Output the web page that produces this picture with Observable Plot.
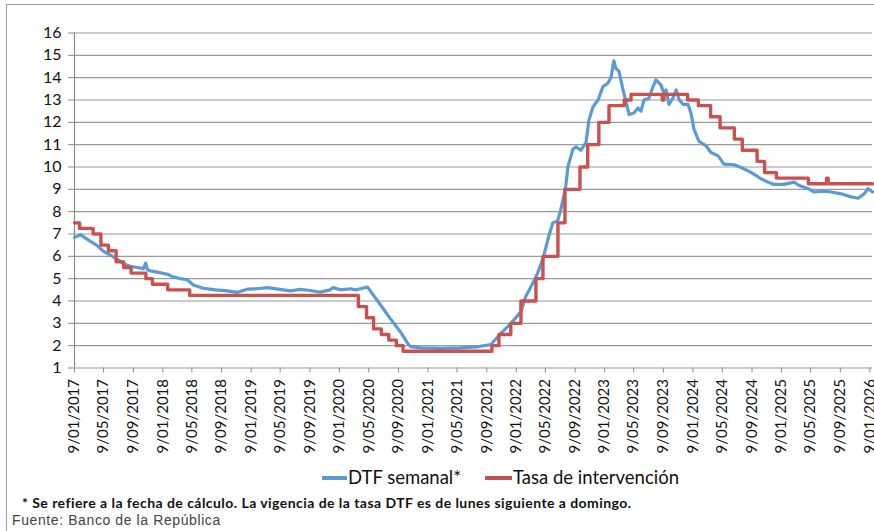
<!DOCTYPE html>
<html>
<head>
<meta charset="utf-8">
<script src="https://cdn.jsdelivr.net/npm/d3@7"></script>
<script src="https://cdn.jsdelivr.net/npm/@observablehq/plot@0.6"></script>
<style>
  html, body { margin: 0; padding: 0; background: #fff; }
  body { width: 874px; height: 531px; overflow: hidden; position: relative; font-family: Lato, "Open Sans", sans-serif; color: #111; }
  #frame { position: absolute; left: 6px; top: 4px; width: 920px; height: 560px; border: 1.5px solid #9d9d9d; box-sizing: border-box; }
  #chart { position: absolute; left: 0; top: 0; }
  .sw { position: absolute; height: 4px; top: 476px; }
  .lg { position: absolute; top: 466px; font-size: 18.5px; line-height: 22px; white-space: nowrap; }
  #note { position: absolute; left: 22px; top: 494px; font-size: 14px; letter-spacing: 0.45px; font-weight: 700; white-space: nowrap; line-height: 18px; }
  #source { position: absolute; left: 12px; top: 512px; font-family: "Liberation Sans", Arial, sans-serif; font-size: 14px; letter-spacing: 0.6px; color: #444; white-space: nowrap; line-height: 16px; }
</style>
</head>
<body>
<div id="frame"></div>
<div id="chart"></div>
<div class="sw" style="left:322px;width:25px;background:#5b9bd5"></div>
<div class="lg" style="left:348px">DTF semanal*</div>
<div class="sw" style="left:485px;width:27px;background:#c0504d"></div>
<div class="lg" style="left:513px">Tasa de intervención</div>
<div id="note">* Se refiere a la fecha de cálculo. La vigencia de la tasa DTF es de lunes siguiente a domingo.</div>
<div id="source">Fuente: Banco de la República</div>
<script>
// DTF semanal
const dtfDates = [
  "2017-01-09","2017-02-03","2017-02-19","2017-03-16","2017-04-10","2017-05-09","2017-06-07","2017-07-06",
  "2017-08-04","2017-08-29","2017-09-26","2017-10-21","2017-10-30","2017-11-07","2017-11-19","2017-12-22",
  "2018-01-28","2018-02-17","2018-03-22","2018-04-20","2018-05-15","2018-06-25","2018-08-14","2018-10-03",
  "2018-11-13","2018-12-24","2019-02-04","2019-03-17","2019-05-01","2019-06-20","2019-07-31","2019-09-10",
  "2019-10-21","2019-12-02","2019-12-14","2020-01-13","2020-02-24","2020-03-15","2020-04-05","2020-05-04",
  "2020-06-27","2020-08-07","2020-09-18","2020-10-17","2020-10-29","2020-12-09","2021-03-03","2021-05-25",
  "2021-07-31","2021-09-26","2021-11-06","2021-12-18","2022-01-27","2022-02-17","2022-03-18","2022-04-07",
  "2022-04-28","2022-05-23","2022-06-09","2022-06-29","2022-07-12","2022-08-01","2022-08-10","2022-08-31",
  "2022-09-12","2022-10-03","2022-10-24","2022-11-05","2022-11-22","2022-12-13","2023-01-02","2023-01-22",
  "2023-02-04","2023-02-16","2023-02-25","2023-03-09","2023-03-26","2023-04-07","2023-04-20","2023-05-10",
  "2023-05-27","2023-06-08","2023-06-21","2023-07-11","2023-07-28","2023-08-09","2023-08-30","2023-09-11",
  "2023-09-20","2023-10-02","2023-10-19","2023-11-01","2023-11-13","2023-11-30","2023-12-20","2024-01-01",
  "2024-01-13","2024-02-03","2024-03-03","2024-03-23","2024-04-22","2024-05-16","2024-06-27","2024-07-26",
  "2024-09-05","2024-10-17","2024-11-15","2024-12-09","2025-01-19","2025-03-02","2025-03-23","2025-04-29",
  "2025-05-24","2025-07-04","2025-08-02","2025-09-13","2025-10-24","2025-11-22","2025-12-17","2026-01-01",
  "2026-01-20"
];
const dtfValues = [
  6.85, 6.97, 6.85, 6.67, 6.50, 6.22, 6.05, 5.85,
  5.65, 5.55, 5.50, 5.45, 5.70, 5.40, 5.35, 5.28,
  5.20, 5.10, 5.00, 4.95, 4.72, 4.57, 4.50, 4.45,
  4.39, 4.53, 4.55, 4.60, 4.53, 4.45, 4.52, 4.47,
  4.40, 4.50, 4.60, 4.50, 4.55, 4.50, 4.55, 4.62,
  3.82, 3.20, 2.60, 2.10, 1.95, 1.90, 1.88, 1.90,
  1.95, 2.05, 2.55, 3.00, 3.50, 4.20, 4.80, 5.25,
  5.85, 6.90, 7.50, 7.60, 8.10, 9.10, 10.00, 10.80,
  10.90, 10.75, 11.10, 12.10, 12.70, 13.00, 13.60, 13.75,
  14.00, 14.75, 14.40, 14.30, 13.45, 12.93, 12.35, 12.42,
  12.64, 12.50, 13.00, 13.08, 13.60, 13.90, 13.67, 13.30,
  13.45, 12.80, 13.10, 13.45, 13.00, 12.80, 12.80, 12.40,
  11.70, 11.15, 10.95, 10.65, 10.50, 10.13, 10.10, 9.98,
  9.76, 9.47, 9.32, 9.22, 9.22, 9.32, 9.17, 9.03,
  8.88, 8.92, 8.88, 8.80, 8.66, 8.60, 8.80, 9.03,
  8.88
];
// Tasa de intervención (step changes)
const tasaDates = [
  "2017-01-09","2017-01-30","2017-03-27","2017-04-28","2017-05-29","2017-06-30","2017-07-31","2017-08-31",
  "2017-10-31","2017-11-27","2018-01-29","2018-04-30","2020-03-27","2020-04-30","2020-05-29","2020-06-30",
  "2020-07-31","2020-08-31","2020-09-28","2021-09-30","2021-10-29","2021-12-17","2022-01-28","2022-03-31",
  "2022-04-29","2022-06-30","2022-07-29","2022-09-29","2022-10-31","2022-12-16","2023-01-27","2023-03-31",
  "2023-04-28","2023-09-04","2023-09-11","2023-12-18","2024-01-31","2024-03-22","2024-04-30","2024-06-28",
  "2024-07-31","2024-09-30","2024-10-31","2024-12-19","2025-04-30","2025-07-14","2025-07-21","2026-01-20"
];
const tasaValues = [
  7.50, 7.25, 7.00, 6.50, 6.25, 5.75, 5.50, 5.25,
  5.00, 4.75, 4.50, 4.25, 3.75, 3.25, 2.75, 2.50,
  2.25, 2.00, 1.75, 2.00, 2.50, 3.00, 4.00, 5.00,
  6.00, 7.50, 9.00, 10.00, 11.00, 12.00, 12.75, 13.00,
  13.25, 13.00, 13.25, 13.00, 12.75, 12.25, 11.75, 11.25,
  10.75, 10.25, 9.75, 9.50, 9.25, 9.50, 9.25, 9.25
];
const xTickLabels = [
  "9/01/2017","9/05/2017","9/09/2017","9/01/2018","9/05/2018","9/09/2018","9/01/2019","9/05/2019",
  "9/09/2019","9/01/2020","9/05/2020","9/09/2020","9/01/2021","9/05/2021","9/09/2021","9/01/2022",
  "9/05/2022","9/09/2022","9/01/2023","9/05/2023","9/09/2023","9/01/2024","9/05/2024","9/09/2024",
  "9/01/2025","9/05/2025","9/09/2025","9/01/2026"
];
const yTicks = [1,2,3,4,5,6,7,8,9,10,11,12,13,14,15,16];

const parseLabel = d3.utcParse("%d/%m/%Y");
const parseISO = d3.utcParse("%Y-%m-%d");
const xTicks = xTickLabels.map(parseLabel);
const dtf = dtfDates.map((d, i) => ({date: parseISO(d), value: dtfValues[i]}));
const tasa = tasaDates.map((d, i) => ({date: parseISO(d), value: tasaValues[i]}));
const xDomain = [parseISO("2017-01-09"), parseISO("2026-01-20")];

const chart = Plot.plot({
  width: 874,
  height: 460,
  marginLeft: 74,
  marginRight: 2,
  marginTop: 32.5,
  marginBottom: 92.5,
  style: {fontFamily: "Lato, 'Open Sans', sans-serif", color: "#111", background: "transparent", overflow: "visible"},
  x: {type: "utc", domain: xDomain},
  y: {domain: [1, 16]},
  marks: [
    Plot.gridY(yTicks, {stroke: "#9a9a9a", strokeOpacity: 1, strokeWidth: 1.2}),
    Plot.ruleX([xDomain[0]], {y1: 1, y2: 16, stroke: "#8a8a8a", strokeWidth: 1.2}),
    Plot.axisY(yTicks, {tickSize: 6, tickPadding: 7, fontSize: 16, stroke: "#8a8a8a", label: null, tickFormat: d => String(d)}),
    Plot.axisX(xTicks, {tickSize: 5, tickPadding: 6, tickRotate: -90, fontSize: 15, stroke: "#8a8a8a", label: null, tickFormat: d3.utcFormat("%-d/%m/%Y")}),
    Plot.line(dtf, {x: "date", y: "value", stroke: "#5b9bd5", strokeWidth: 3.2, strokeLinejoin: "round"}),
    Plot.line(tasa, {x: "date", y: "value", curve: "step-after", stroke: "#c9514e", strokeWidth: 3.4})
  ]
});
document.getElementById("chart").appendChild(chart);
</script>
</body>
</html>
